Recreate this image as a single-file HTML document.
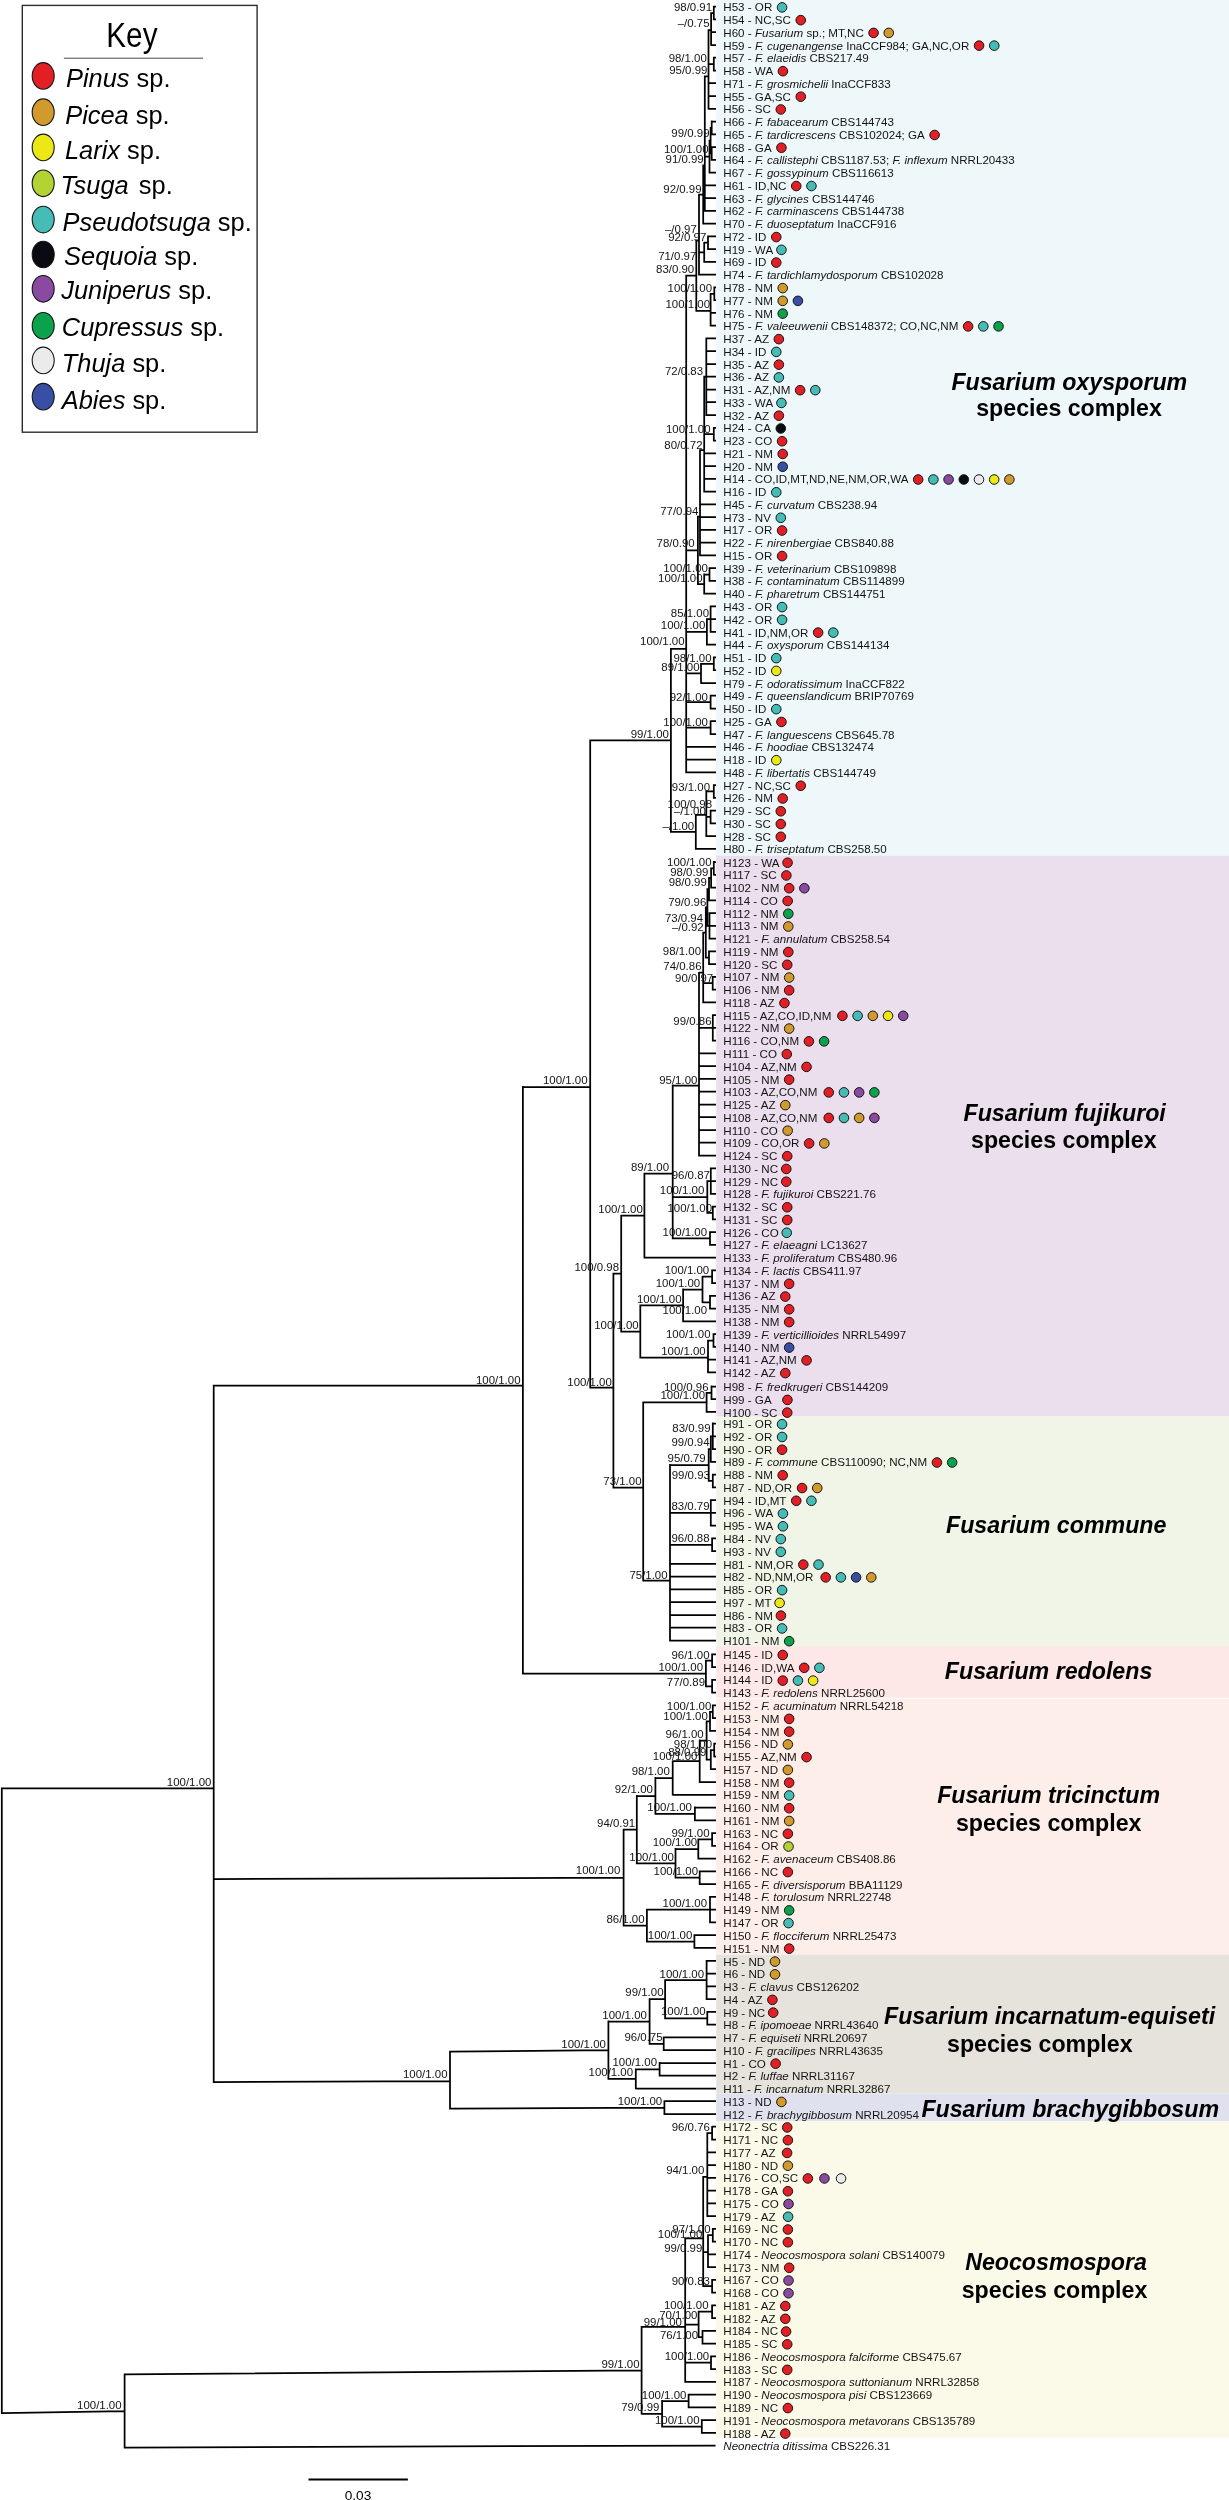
<!DOCTYPE html>
<html lang="en"><head><meta charset="utf-8"><title>Fusarium haplotype phylogeny</title>
<style>
html,body{margin:0;padding:0;background:#fff}
body{width:1229px;height:2500px;position:relative;overflow:hidden;font-family:"Liberation Sans",sans-serif;color:#141414}
svg,#rows{position:absolute;left:0;top:0;width:1229px;height:2500px;will-change:transform}
svg text{font-family:"Liberation Sans",sans-serif;fill:#141414}
.s{font-size:11.45px;text-anchor:end}
.g{font-size:23.2px;font-weight:bold;text-anchor:middle;fill:#000}
.g i,.gi{font-style:italic}
.k{font-size:26.6px;fill:#000}
.r{position:absolute;left:723.3px;height:14px;line-height:14px;font-size:11.6px;white-space:nowrap;letter-spacing:0}
.r i{font-style:italic}
</style></head><body>
<svg width="1229" height="2500" viewBox="0 0 1229 2500">
<rect x="716.2" y="0" width="513" height="855.8" fill="#eef7f9"/>
<rect x="716.2" y="855.8" width="513" height="560.7" fill="#ebdeed"/>
<rect x="716.2" y="1416.5" width="513" height="229.7" fill="#f0f5e8"/>
<rect x="716.2" y="1646.2" width="513" height="51.6" fill="#fde8e7"/>
<rect x="716.2" y="1698.8" width="513" height="255.8" fill="#fdeeea"/>
<rect x="716.2" y="1954.6" width="513" height="139" fill="#e6e3dd"/>
<rect x="716.2" y="2093.6" width="513" height="27.6" fill="#dfe1ee"/>
<rect x="716.2" y="2121.2" width="513" height="316.8" fill="#fbfae8"/>
<path d="M1.8 1787.4L1.8 2413.9M1.8 1788.3L213.7 1788.3M213.7 1384.8L213.7 2082.9M213.7 1385.7L522.9 1385.7M522.9 1086.1L522.9 1674.4M522.9 1087L590.2 1087M590.2 739.5L590.2 1388.6M590.2 740.3L670.9 740.3M670.9 648L670.9 832.7M670.9 648.8L686.2 648.8M686.2 274.8L686.2 773.2M686.2 275.6L696.3 275.6M696.3 239.6L696.3 311.7M696.3 240.5L699 240.5M699 193.7L699 275.5M699 194.5L703.2 194.5M703.2 164.6L703.2 224.5M703.2 165.5L704.8 165.5M704.8 75.6L704.8 211.7M704.8 76.4L708.5 76.4M708.5 29.2L708.5 109.6M708.5 30.1L711.1 30.1M711.1 12.2L711.1 45.8M711.1 13.1L713.8 13.1M713.8 5.8L713.8 20.3M713.8 6.7L716 6.7M713.8 19.4L716 19.4M711.1 32.2L716 32.2M711.1 45L716 45M708.5 64.1L713.8 64.1M713.8 56.8L713.8 71.4M713.8 57.7L716 57.7M713.8 70.5L716 70.5M708.5 83.2L716 83.2M708.5 96L716 96M708.5 108.8L716 108.8M704.8 156.6L709.5 156.6M709.5 139.8L709.5 173.4M709.5 140.7L710.6 140.7M710.6 127L710.6 154.3M710.6 127.9L711.7 127.9M711.7 120.6L711.7 135.2M711.7 121.5L716 121.5M711.7 134.3L716 134.3M710.6 153.4L711.7 153.4M711.7 146.2L711.7 160.7M711.7 147L716 147M711.7 159.8L716 159.8M709.5 172.6L716 172.6M704.8 185.3L716 185.3M704.8 198.1L716 198.1M704.8 210.8L716 210.8M703.2 223.6L716 223.6M699 252.3L704.2 252.3M704.2 241.9L704.2 262.8M704.2 242.7L708 242.7M708 235.5L708 250M708 236.4L716 236.4M708 249.1L716 249.1M704.2 261.9L716 261.9M699 274.6L716 274.6M696.3 310.8L710.6 310.8M710.6 292.9L710.6 326.6M710.6 293.8L714.3 293.8M714.3 286.5L714.3 301M714.3 287.4L716 287.4M714.3 300.2L716 300.2M710.6 312.9L716 312.9M710.6 325.7L716 325.7M686.2 550.3L697.9 550.3M697.9 515.7L697.9 584.9M697.9 516.5L700 516.5M700 449.2L700 556.2M700 450.1L704.2 450.1M704.2 375.8L704.2 492.4M704.2 376.7L706.3 376.7M706.3 337.6L706.3 415.9M706.3 338.4L716 338.4M706.3 351.2L716 351.2M706.3 364L716 364M706.3 376.7L716 376.7M706.3 389.5L716 389.5M706.3 402.2L716 402.2M706.3 415L716 415M704.2 434.1L713.8 434.1M713.8 426.9L713.8 441.4M713.8 427.8L716 427.8M713.8 440.5L716 440.5M704.2 453.3L716 453.3M704.2 466L716 466M704.2 478.8L716 478.8M704.2 491.6L716 491.6M700 504.3L716 504.3M700 517.1L716 517.1M700 529.8L716 529.8M700 542.6L716 542.6M700 555.4L716 555.4M697.9 584.1L704.2 584.1M704.2 573.6L704.2 594.5M704.2 574.5L709.5 574.5M709.5 567.2L709.5 581.8M709.5 568.1L716 568.1M709.5 580.9L716 580.9M704.2 593.6L716 593.6M686.2 631.9L706.9 631.9M706.9 618.3L706.9 645.6M706.9 619.2L710.6 619.2M710.6 605.5L710.6 632.8M710.6 606.4L716 606.4M710.6 619.2L716 619.2M710.6 631.9L716 631.9M706.9 644.7L716 644.7M686.2 673.4L701 673.4M701 662.9L701 683.8M701 663.8L713.8 663.8M713.8 656.6L713.8 671.1M713.8 657.4L716 657.4M713.8 670.2L716 670.2M701 683L716 683M686.2 702.1L710.6 702.1M710.6 694.8L710.6 709.4M710.6 695.7L716 695.7M710.6 708.5L716 708.5M686.2 727.6L710.6 727.6M710.6 720.4L710.6 734.9M710.6 721.2L716 721.2M710.6 734L716 734M686.2 746.8L716 746.8M686.2 759.5L716 759.5M686.2 772.3L716 772.3M670.9 831.8L695.8 831.8M695.8 813.9L695.8 849.7M695.8 814.8L706.3 814.8M706.3 790.5L706.3 837M706.3 791.4L713.8 791.4M713.8 784.2L713.8 798.7M713.8 785L716 785M713.8 797.8L716 797.8M706.3 816.9L710.6 816.9M710.6 809.7L710.6 824.2M710.6 810.6L716 810.6M710.6 823.3L716 823.3M706.3 836.1L716 836.1M695.8 848.8L716 848.8M590.2 1387.7L613.4 1387.7M613.4 1272.7L613.4 1488.5M613.4 1273.6L621.2 1273.6M621.2 1214.7L621.2 1332.4M621.2 1215.6L644.4 1215.6M644.4 1172.8L644.4 1258.5M644.4 1173.6L672.7 1173.6M672.7 1084.6L672.7 1239.3M672.7 1085.5L699 1085.5M699 971.9L699 1156.4M699 972.7L703.2 972.7M703.2 931.7L703.2 1003.2M703.2 932.6L705.8 932.6M705.8 906.6L705.8 958.6M705.8 907.5L707.4 907.5M707.4 888.2L707.4 926.7M707.4 889.1L709 889.1M709 877.1L709 901.2M709 878L711.1 878M711.1 867.5L711.1 888.4M711.1 868.4L713.8 868.4M713.8 861.1L713.8 875.6M713.8 862L716 862M713.8 874.8L716 874.8M711.1 887.5L716 887.5M709 900.3L716 900.3M707.4 925.8L709.5 925.8M709.5 912.2L709.5 939.4M709.5 913L716 913M709.5 925.8L716 925.8M709.5 938.6L716 938.6M705.8 957.7L709 957.7M709 950.5L709 965M709 951.3L716 951.3M709 964.1L716 964.1M703.2 983.2L712.7 983.2M712.7 976L712.7 990.5M712.7 976.8L716 976.8M712.7 989.6L716 989.6M703.2 1002.4L716 1002.4M699 1027.9L712.8 1027.9M712.8 1014.3L712.8 1041.5M712.8 1015.1L716 1015.1M712.8 1027.9L716 1027.9M712.8 1040.7L716 1040.7M699 1053.4L716 1053.4M699 1066.2L716 1066.2M699 1078.9L716 1078.9M699 1091.7L716 1091.7M699 1104.5L716 1104.5M699 1117.2L716 1117.2M699 1130L716 1130M699 1142.7L716 1142.7M699 1155.5L716 1155.5M672.7 1197L707.3 1197M707.3 1180.2L707.3 1213.8M707.3 1181L710.8 1181M710.8 1167.4L710.8 1194.7M710.8 1168.3L716 1168.3M710.8 1181L716 1181M710.8 1193.8L716 1193.8M707.3 1212.9L712.8 1212.9M712.8 1205.7L712.8 1220.2M712.8 1206.5L716 1206.5M712.8 1219.3L716 1219.3M672.7 1238.4L710 1238.4M710 1231.2L710 1245.7M710 1232.1L716 1232.1M710 1244.8L716 1244.8M644.4 1257.6L716 1257.6M621.2 1331.5L640.3 1331.5M640.3 1304.6L640.3 1358.4M640.3 1305.4L683.1 1305.4M683.1 1288.6L683.1 1322.3M683.1 1289.5L702.5 1289.5M702.5 1275.9L702.5 1303.1M702.5 1276.7L712.1 1276.7M712.1 1269.5L712.1 1284M712.1 1270.4L716 1270.4M712.1 1283.1L716 1283.1M702.5 1302.3L710 1302.3M710 1295L710 1309.5M710 1295.9L716 1295.9M710 1308.6L716 1308.6M683.1 1321.4L716 1321.4M640.3 1357.6L708 1357.6M708 1339.7L708 1373.3M708 1340.5L713.5 1340.5M713.5 1333.3L713.5 1347.8M713.5 1334.2L716 1334.2M713.5 1346.9L716 1346.9M708 1359.7L716 1359.7M708 1372.4L716 1372.4M613.4 1487.6L643.2 1487.6M643.2 1401.5L643.2 1581.4M643.2 1402.4L706.6 1402.4M706.6 1392L706.6 1412.8M706.6 1392.8L711.5 1392.8M711.5 1385.6L711.5 1400.1M711.5 1386.5L716 1386.5M711.5 1399.2L716 1399.2M706.6 1411.9L716 1411.9M643.2 1580.5L670 1580.5M670 1464.1L670 1641.4M670 1465L708.7 1465M708.7 1448.2L708.7 1481.8M708.7 1449L710.8 1449M710.8 1435.4L710.8 1462.7M710.8 1436.3L712.8 1436.3M712.8 1422.6L712.8 1449.9M712.8 1423.5L716 1423.5M712.8 1436.3L716 1436.3M712.8 1449L716 1449M710.8 1461.8L716 1461.8M708.7 1480.9L712.8 1480.9M712.8 1473.7L712.8 1488.2M712.8 1474.6L716 1474.6M712.8 1487.3L716 1487.3M670 1512.9L710.8 1512.9M710.8 1499.2L710.8 1526.5M710.8 1500.1L716 1500.1M710.8 1512.9L716 1512.9M710.8 1525.6L716 1525.6M670 1544.8L712.1 1544.8M712.1 1537.5L712.1 1552M712.1 1538.4L716 1538.4M712.1 1551.2L716 1551.2M670 1563.9L716 1563.9M670 1576.7L716 1576.7M670 1589.4L716 1589.4M670 1602.2L716 1602.2M670 1615L716 1615M670 1627.7L716 1627.7M670 1640.5L716 1640.5M522.9 1673.5L705.9 1673.5M705.9 1659.8L705.9 1687.2M705.9 1660.7L712.1 1660.7M712.1 1653.4L712.1 1668M712.1 1654.3L716 1654.3M712.1 1667.1L716 1667.1M705.9 1686.3L712.1 1686.3M712.1 1679L712.1 1693.6M712.1 1679.9L716 1679.9M712.1 1692.7L716 1692.7M213.7 1879.1L623.6 1877.6M623.6 1828.8L623.6 1926.5M623.6 1829.7L636.8 1829.7M636.8 1795.1L636.8 1864.2M636.8 1796L655.4 1796M655.4 1777.1L655.4 1814.8M655.4 1778L672.7 1778M672.7 1760.4L672.7 1795.6M672.7 1761.2L699.7 1761.2M699.7 1739.6L699.7 1782.9M699.7 1740.5L706.6 1740.5M706.6 1720.5L706.6 1760.5M706.6 1721.4L710 1721.4M710 1710.9L710 1731.8M710 1711.8L712.8 1711.8M712.8 1704.5L712.8 1719M712.8 1705.4L716 1705.4M712.8 1718.2L716 1718.2M710 1730.9L716 1730.9M706.6 1759.7L710.8 1759.7M710.8 1749.2L710.8 1770.1M710.8 1750.1L714.2 1750.1M714.2 1742.8L714.2 1757.3M714.2 1743.7L716 1743.7M714.2 1756.5L716 1756.5M710.8 1769.2L716 1769.2M699.7 1782L716 1782M672.7 1794.8L716 1794.8M655.4 1813.9L694.9 1813.9M694.9 1806.6L694.9 1821.2M694.9 1807.5L716 1807.5M694.9 1820.3L716 1820.3M636.8 1863.4L675.5 1863.4M675.5 1848.1L675.5 1878.6M675.5 1849L698.3 1849M698.3 1838.6L698.3 1859.5M698.3 1839.4L712.1 1839.4M712.1 1832.2L712.1 1846.7M712.1 1833.1L716 1833.1M712.1 1845.8L716 1845.8M698.3 1858.6L716 1858.6M675.5 1877.7L699.7 1877.7M699.7 1870.5L699.7 1885M699.7 1871.3L716 1871.3M699.7 1884.1L716 1884.1M623.6 1925.6L646.9 1925.6M646.9 1908.8L646.9 1942.4M646.9 1909.6L710 1909.6M710 1896L710 1923.3M710 1896.9L716 1896.9M710 1909.6L716 1909.6M710 1922.4L716 1922.4M646.9 1941.6L694.4 1941.6M694.4 1934.3L694.4 1948.8M694.4 1935.2L716 1935.2M694.4 1947.9L716 1947.9M213.7 2082L450 2081M450 2050.8L450 2109.6M450 2051.7L608.4 2050.2M608.4 2020.6L608.4 2079.8M608.4 2021.5L649.6 2021.5M649.6 1998.3L649.6 2044.7M649.6 1999.2L665.1 1999.2M665.1 1979.2L665.1 2019.2M665.1 1980L706.6 1980M706.6 1960L706.6 2000M706.6 1960.9L716 1960.9M706.6 1973.7L716 1973.7M706.6 1986.4L716 1986.4M706.6 1999.2L716 1999.2M665.1 2018.3L707.3 2018.3M707.3 2011.1L707.3 2025.6M707.3 2011.9L716 2011.9M707.3 2024.7L716 2024.7M649.6 2043.8L663.7 2043.8M663.7 2036.6L663.7 2051.1M663.7 2037.4L716 2037.4M663.7 2050.2L716 2050.2M608.4 2078.9L635.8 2078.9M635.8 2068.5L635.8 2089.3M635.8 2069.3L659.6 2069.3M659.6 2062.1L659.6 2076.6M659.6 2063L716 2063M659.6 2075.7L716 2075.7M635.8 2088.5L716 2088.5M450 2108.7L664.4 2107.6M664.4 2100.4L664.4 2114.9M664.4 2101.2L716 2101.2M664.4 2114L716 2114M1.8 2413L124.6 2411M124.6 2373.5L124.6 2448.5M124.6 2374.4L641.6 2370.3M641.6 2326L641.6 2414.6M641.6 2326.9L685.2 2326.9M685.2 2237.5L685.2 2382.8M685.2 2238.4L703.2 2238.4M703.2 2176L703.2 2287.1M703.2 2176.9L707.3 2176.9M707.3 2132.2L707.3 2216.9M707.3 2133.1L712.1 2133.1M712.1 2125.9L712.1 2140.4M712.1 2126.7L716 2126.7M712.1 2139.5L716 2139.5M707.3 2152.3L716 2152.3M707.3 2165L716 2165M707.3 2177.8L716 2177.8M707.3 2190.5L716 2190.5M707.3 2203.3L716 2203.3M707.3 2216L716 2216M703.2 2252.2L708 2252.2M708 2234.3L708 2267.9M708 2235.2L712.8 2235.2M712.8 2227.9L712.8 2242.4M712.8 2228.8L716 2228.8M712.8 2241.6L716 2241.6M708 2254.3L716 2254.3M708 2267.1L716 2267.1M703.2 2286.2L712.1 2286.2M712.1 2279L712.1 2293.5M712.1 2279.8L716 2279.8M712.1 2292.6L716 2292.6M685.2 2324.5L698.6 2324.5M698.6 2310.8L698.6 2338.1M698.6 2311.7L712.1 2311.7M712.1 2304.5L712.1 2319M712.1 2305.3L716 2305.3M712.1 2318.1L716 2318.1M698.6 2337.2L702.5 2337.2M702.5 2330L702.5 2344.5M702.5 2330.9L716 2330.9M702.5 2343.6L716 2343.6M685.2 2362.7L711 2362.7M711 2355.5L711 2370M711 2356.4L716 2356.4M711 2369.1L716 2369.1M685.2 2381.9L716 2381.9M641.6 2413.8L662.1 2413.8M662.1 2400.1L662.1 2427.4M662.1 2401L688.6 2401M688.6 2393.8L688.6 2408.3M688.6 2394.6L716 2394.6M688.6 2407.4L716 2407.4M662.1 2426.5L701.8 2426.5M701.8 2419.3L701.8 2433.8M701.8 2420.2L716 2420.2M701.8 2432.9L716 2432.9M124.6 2447.6L715.6 2445.5" fill="none" stroke="#000" stroke-width="1.75"/>
<path d="M308.5 2479.4H407.9" stroke="#000" stroke-width="2" fill="none"/>
<text x="358" y="2500" style="font-size:13.7px;text-anchor:middle;fill:#000">0.03</text>
<text class="s" x="712.1" y="11.4">98/0.91</text>
<text class="s" x="709.5" y="26.8">–/0.75</text>
<text class="s" x="706.8" y="61.7">98/1.00</text>
<text class="s" x="707.4" y="74.4">95/0.99</text>
<text class="s" x="709.5" y="136.8">99/0.99</text>
<text class="s" x="708.5" y="152.6">100/1.00</text>
<text class="s" x="703.7" y="163.2">91/0.99</text>
<text class="s" x="701.5" y="192.9">92/0.99</text>
<text class="s" x="696.8" y="232.6">–/0.97</text>
<text class="s" x="706.3" y="241.1">92/0.97</text>
<text class="s" x="696.3" y="260.1">71/0.97</text>
<text class="s" x="694.2" y="272.9">83/0.90</text>
<text class="s" x="712.1" y="291.9">100/1.00</text>
<text class="s" x="710" y="307.8">100/1.00</text>
<text class="s" x="703.1" y="374.6">72/0.83</text>
<text class="s" x="710.5" y="432.9">100/1.00</text>
<text class="s" x="702.5" y="448.8">80/0.72</text>
<text class="s" x="698.4" y="514.8">77/0.94</text>
<text class="s" x="694.7" y="547.4">78/0.90</text>
<text class="s" x="707.9" y="572.2">100/1.00</text>
<text class="s" x="702.6" y="581.8">100/1.00</text>
<text class="s" x="709" y="617.2">85/1.00</text>
<text class="s" x="705.3" y="629.4">100/1.00</text>
<text class="s" x="684.6" y="645.2">100/1.00</text>
<text class="s" x="711.6" y="661.7">98/1.00</text>
<text class="s" x="699.5" y="670.7">89/1.00</text>
<text class="s" x="707.9" y="700.6">92/1.00</text>
<text class="s" x="707.9" y="726">100/1.00</text>
<text class="s" x="668.9" y="737.6">99/1.00</text>
<text class="s" x="710" y="790.6">93/1.00</text>
<text class="s" x="712.1" y="808">100/0.98</text>
<text class="s" x="705.8" y="814.9">–/1.00</text>
<text class="s" x="694.2" y="829.7">–/1.00</text>
<text class="s" x="711.6" y="866.2">100/1.00</text>
<text class="s" x="708.4" y="876.2">98/0.99</text>
<text class="s" x="706.8" y="886.2">98/0.99</text>
<text class="s" x="706.3" y="905.9">79/0.96</text>
<text class="s" x="703.1" y="921.7">73/0.94</text>
<text class="s" x="703.7" y="931.2">–/0.92</text>
<text class="s" x="701" y="955">98/1.00</text>
<text class="s" x="701.5" y="969.9">74/0.86</text>
<text class="s" x="713.2" y="981.5">90/0.97</text>
<text class="s" x="711.5" y="1025.2">99/0.86</text>
<text class="s" x="697.4" y="1083.5">95/1.00</text>
<text class="s" x="587.5" y="1084.2">100/1.00</text>
<text class="s" x="669.1" y="1170.5">89/1.00</text>
<text class="s" x="709.9" y="1179">96/0.87</text>
<text class="s" x="704.3" y="1194.2">100/1.00</text>
<text class="s" x="712" y="1212.2">100/1.00</text>
<text class="s" x="707.1" y="1235.7">100/1.00</text>
<text class="s" x="642.8" y="1213">100/1.00</text>
<text class="s" x="619" y="1271.2">100/0.98</text>
<text class="s" x="709.2" y="1274">100/1.00</text>
<text class="s" x="700.2" y="1286.5">100/1.00</text>
<text class="s" x="681.5" y="1302.5">100/1.00</text>
<text class="s" x="707.1" y="1314.2">100/1.00</text>
<text class="s" x="638.7" y="1328.5">100/1.00</text>
<text class="s" x="710.5" y="1337.7">100/1.00</text>
<text class="s" x="705.7" y="1354.5">100/1.00</text>
<text class="s" x="611.8" y="1385.5">100/1.00</text>
<text class="s" x="520.5" y="1383.5">100/1.00</text>
<text class="s" x="708.5" y="1391">100/0.96</text>
<text class="s" x="705" y="1399.2">100/1.00</text>
<text class="s" x="710.5" y="1432.4">83/0.99</text>
<text class="s" x="709.6" y="1446.2">99/0.94</text>
<text class="s" x="705.7" y="1462">95/0.79</text>
<text class="s" x="709.9" y="1479.4">99/0.93</text>
<text class="s" x="641.5" y="1485.2">73/1.00</text>
<text class="s" x="709.6" y="1510.2">83/0.79</text>
<text class="s" x="709.6" y="1542">96/0.88</text>
<text class="s" x="667.6" y="1578.5">75/1.00</text>
<text class="s" x="709.6" y="1658.7">96/1.00</text>
<text class="s" x="703" y="1671">100/1.00</text>
<text class="s" x="705" y="1685.9">77/0.89</text>
<text class="s" x="711.3" y="1710">100/1.00</text>
<text class="s" x="707.8" y="1719.8">100/1.00</text>
<text class="s" x="703.7" y="1737.7">96/1.00</text>
<text class="s" x="712" y="1748">98/1.00</text>
<text class="s" x="706.4" y="1755.7">88/0.99</text>
<text class="s" x="697.4" y="1759.5">100/1.00</text>
<text class="s" x="669.8" y="1775.4">98/1.00</text>
<text class="s" x="652.9" y="1793">92/1.00</text>
<text class="s" x="691.9" y="1811">100/1.00</text>
<text class="s" x="635.2" y="1827">94/0.91</text>
<text class="s" x="709.6" y="1837.2">99/1.00</text>
<text class="s" x="697.2" y="1846.2">100/1.00</text>
<text class="s" x="673.9" y="1860.8">100/1.00</text>
<text class="s" x="698.1" y="1875.4">100/1.00</text>
<text class="s" x="620.3" y="1874">100/1.00</text>
<text class="s" x="211.4" y="1785.7">100/1.00</text>
<text class="s" x="707.1" y="1907.2">100/1.00</text>
<text class="s" x="644.6" y="1923">86/1.00</text>
<text class="s" x="692.3" y="1939">100/1.00</text>
<text class="s" x="704.1" y="1977.5">100/1.00</text>
<text class="s" x="663.5" y="1996.4">99/1.00</text>
<text class="s" x="705.5" y="2015.4">100/1.00</text>
<text class="s" x="646.9" y="2019">100/1.00</text>
<text class="s" x="662.6" y="2040.7">96/0.75</text>
<text class="s" x="605.9" y="2047.5">100/1.00</text>
<text class="s" x="657" y="2066.4">100/1.00</text>
<text class="s" x="633.1" y="2076.1">100/1.00</text>
<text class="s" x="447.5" y="2078.3">100/1.00</text>
<text class="s" x="662.2" y="2104.9">100/1.00</text>
<text class="s" x="709.9" y="2130.9">96/0.76</text>
<text class="s" x="704.3" y="2174.1">94/1.00</text>
<text class="s" x="710.5" y="2232.6">97/1.00</text>
<text class="s" x="702.3" y="2237.8">100/1.00</text>
<text class="s" x="702.3" y="2251.5">99/0.99</text>
<text class="s" x="709.9" y="2284.8">90/0.83</text>
<text class="s" x="708.5" y="2308.9">100/1.00</text>
<text class="s" x="697.4" y="2318.9">70/1.00</text>
<text class="s" x="681.9" y="2326.2">99/1.00</text>
<text class="s" x="698.1" y="2339.4">76/1.00</text>
<text class="s" x="709.2" y="2360.3">100/1.00</text>
<text class="s" x="639.6" y="2367.8">99/1.00</text>
<text class="s" x="686.4" y="2398.6">100/1.00</text>
<text class="s" x="659.4" y="2411.1">79/0.99</text>
<text class="s" x="699.5" y="2423.5">100/1.00</text>
<text class="s" x="121.6" y="2408.8">100/1.00</text>
<text class="g gi" x="1069.3" y="389.5">Fusarium oxysporum</text>
<text class="g" x="1069" y="416.3">species complex</text>
<text class="g gi" x="1064.7" y="1120.7">Fusarium fujikuroi</text>
<text class="g" x="1063.8" y="1148.3">species complex</text>
<text class="g gi" x="1056.2" y="1533">Fusarium commune</text>
<text class="g gi" x="1048.6" y="1679">Fusarium redolens</text>
<text class="g gi" x="1048.6" y="1803">Fusarium tricinctum</text>
<text class="g" x="1048.7" y="1830.6">species complex</text>
<text class="g gi" x="1049.6" y="2024.3">Fusarium incarnatum-equiseti</text>
<text class="g" x="1039.8" y="2051.9">species complex</text>
<text class="g gi" x="1070.2" y="2117.4">Fusarium brachygibbosum</text>
<text class="g gi" x="1056" y="2270.3">Neocosmospora</text>
<text class="g" x="1054.5" y="2298.2">species complex</text>
<rect x="22.3" y="5.4" width="234.8" height="426.8" fill="#fff" stroke="#2e2e2e" stroke-width="1.4"/>
<text transform="translate(131.9 47) scale(0.825 1)" style="font-size:36px;text-anchor:middle;fill:#000">Key</text>
<path d="M63.9 58.2H203.1" stroke="#333" stroke-width="0.9" fill="none"/>
<ellipse cx="43.2" cy="75.9" rx="11" ry="13.3" fill="#e31f26" stroke="#151515" stroke-width="1.1"/>
<text class="k" transform="translate(66 87.2) scale(0.955 1)"><tspan style="font-style:italic">Pinus</tspan> sp.</text>
<ellipse cx="43.2" cy="112.2" rx="11" ry="13.3" fill="#d29a2c" stroke="#151515" stroke-width="1.1"/>
<text class="k" transform="translate(65.2 123.7) scale(0.955 1)"><tspan style="font-style:italic">Picea</tspan> sp.</text>
<ellipse cx="43.2" cy="147.4" rx="11" ry="13.3" fill="#ece815" stroke="#151515" stroke-width="1.1"/>
<text class="k" transform="translate(65 158.5) scale(0.955 1)"><tspan style="font-style:italic">Larix</tspan> sp.</text>
<ellipse cx="43.2" cy="183.3" rx="11" ry="13.3" fill="#b3d234" stroke="#151515" stroke-width="1.1"/>
<text class="k" transform="translate(60.4 194.3) scale(0.955 1)"><tspan style="font-style:italic">Tsuga</tspan><tspan dx="3.3"> </tspan> sp.</text>
<ellipse cx="43.2" cy="219.6" rx="11" ry="13.3" fill="#45bcb6" stroke="#151515" stroke-width="1.1"/>
<text class="k" transform="translate(62.5 231) scale(0.955 1)"><tspan style="font-style:italic">Pseudotsuga</tspan> sp.</text>
<ellipse cx="43.2" cy="254.5" rx="11" ry="13.3" fill="#0a0a12" stroke="#151515" stroke-width="1.1"/>
<text class="k" transform="translate(64.1 264.6) scale(0.955 1)"><tspan style="font-style:italic">Sequoia</tspan> sp.</text>
<ellipse cx="43.2" cy="288.8" rx="11" ry="13.3" fill="#8b4aa2" stroke="#151515" stroke-width="1.1"/>
<text class="k" transform="translate(61.2 299.4) scale(0.955 1)"><tspan style="font-style:italic">Juniperus</tspan> sp.</text>
<ellipse cx="43.2" cy="325.8" rx="11" ry="13.3" fill="#0ca24b" stroke="#151515" stroke-width="1.1"/>
<text class="k" transform="translate(61.8 336.2) scale(0.955 1)"><tspan style="font-style:italic">Cupressus</tspan> sp.</text>
<ellipse cx="43.2" cy="360.4" rx="11" ry="13.3" fill="#ebebeb" stroke="#151515" stroke-width="1.1"/>
<text class="k" transform="translate(61.8 372) scale(0.955 1)"><tspan style="font-style:italic">Thuja</tspan> sp.</text>
<ellipse cx="43.2" cy="396.7" rx="11" ry="13.3" fill="#394fa3" stroke="#151515" stroke-width="1.1"/>
<text class="k" transform="translate(61.8 409.1) scale(0.955 1)"><tspan style="font-style:italic">Abies</tspan> sp.</text>
<g stroke="#151515" stroke-width="1">
<circle cx="782.07" cy="7.38" r="4.8" fill="#45bcb6"/>
<circle cx="800.76" cy="20.14" r="4.8" fill="#e31f26"/>
<circle cx="873.57" cy="32.90" r="4.8" fill="#e31f26"/>
<circle cx="888.77" cy="32.90" r="4.8" fill="#d29a2c"/>
<circle cx="979.07" cy="45.66" r="4.8" fill="#e31f26"/>
<circle cx="994.27" cy="45.66" r="4.8" fill="#45bcb6"/>
<circle cx="782.93" cy="71.18" r="4.8" fill="#e31f26"/>
<circle cx="800.76" cy="96.70" r="4.8" fill="#e31f26"/>
<circle cx="780.79" cy="109.46" r="4.8" fill="#e31f26"/>
<circle cx="934.62" cy="134.98" r="4.8" fill="#e31f26"/>
<circle cx="781.43" cy="147.74" r="4.8" fill="#e31f26"/>
<circle cx="796.24" cy="186.02" r="4.8" fill="#e31f26"/>
<circle cx="811.44" cy="186.02" r="4.8" fill="#45bcb6"/>
<circle cx="776.27" cy="237.06" r="4.8" fill="#e31f26"/>
<circle cx="781.43" cy="249.82" r="4.8" fill="#45bcb6"/>
<circle cx="776.27" cy="262.58" r="4.8" fill="#e31f26"/>
<circle cx="782.71" cy="288.10" r="4.8" fill="#d29a2c"/>
<circle cx="782.71" cy="300.86" r="4.8" fill="#d29a2c"/>
<circle cx="797.91" cy="300.86" r="4.8" fill="#394fa3"/>
<circle cx="782.71" cy="313.62" r="4.8" fill="#0ca24b"/>
<circle cx="968.12" cy="326.38" r="4.8" fill="#e31f26"/>
<circle cx="983.32" cy="326.38" r="4.8" fill="#45bcb6"/>
<circle cx="998.52" cy="326.38" r="4.8" fill="#0ca24b"/>
<circle cx="778.85" cy="339.14" r="4.8" fill="#e31f26"/>
<circle cx="776.27" cy="351.90" r="4.8" fill="#45bcb6"/>
<circle cx="778.85" cy="364.66" r="4.8" fill="#e31f26"/>
<circle cx="778.85" cy="377.42" r="4.8" fill="#45bcb6"/>
<circle cx="800.10" cy="390.18" r="4.8" fill="#e31f26"/>
<circle cx="815.30" cy="390.18" r="4.8" fill="#45bcb6"/>
<circle cx="781.43" cy="402.94" r="4.8" fill="#45bcb6"/>
<circle cx="778.85" cy="415.70" r="4.8" fill="#e31f26"/>
<circle cx="780.79" cy="428.46" r="4.8" fill="#0a0a12"/>
<circle cx="782.07" cy="441.22" r="4.8" fill="#e31f26"/>
<circle cx="782.71" cy="453.98" r="4.8" fill="#e31f26"/>
<circle cx="782.71" cy="466.74" r="4.8" fill="#394fa3"/>
<circle cx="918.18" cy="479.50" r="4.8" fill="#e31f26"/>
<circle cx="933.38" cy="479.50" r="4.8" fill="#45bcb6"/>
<circle cx="948.58" cy="479.50" r="4.8" fill="#8b4aa2"/>
<circle cx="963.78" cy="479.50" r="4.8" fill="#0a0a12"/>
<circle cx="978.98" cy="479.50" r="4.8" fill="#ebebeb"/>
<circle cx="994.18" cy="479.50" r="4.8" fill="#ece815"/>
<circle cx="1009.38" cy="479.50" r="4.8" fill="#d29a2c"/>
<circle cx="776.27" cy="492.26" r="4.8" fill="#45bcb6"/>
<circle cx="780.79" cy="517.78" r="4.8" fill="#45bcb6"/>
<circle cx="782.07" cy="530.54" r="4.8" fill="#e31f26"/>
<circle cx="782.07" cy="556.06" r="4.8" fill="#e31f26"/>
<circle cx="782.07" cy="607.10" r="4.8" fill="#45bcb6"/>
<circle cx="782.07" cy="619.86" r="4.8" fill="#45bcb6"/>
<circle cx="818.13" cy="632.62" r="4.8" fill="#e31f26"/>
<circle cx="833.33" cy="632.62" r="4.8" fill="#45bcb6"/>
<circle cx="776.27" cy="658.14" r="4.8" fill="#45bcb6"/>
<circle cx="776.27" cy="670.90" r="4.8" fill="#ece815"/>
<circle cx="776.27" cy="709.18" r="4.8" fill="#45bcb6"/>
<circle cx="781.43" cy="721.94" r="4.8" fill="#e31f26"/>
<circle cx="776.27" cy="760.22" r="4.8" fill="#ece815"/>
<circle cx="800.76" cy="785.74" r="4.8" fill="#e31f26"/>
<circle cx="782.71" cy="798.50" r="4.8" fill="#e31f26"/>
<circle cx="780.79" cy="811.26" r="4.8" fill="#e31f26"/>
<circle cx="780.79" cy="824.02" r="4.8" fill="#e31f26"/>
<circle cx="780.79" cy="836.78" r="4.8" fill="#e31f26"/>
<circle cx="787.57" cy="862.70" r="4.8" fill="#e31f26"/>
<circle cx="786.37" cy="875.46" r="4.8" fill="#e31f26"/>
<circle cx="789.16" cy="888.22" r="4.8" fill="#e31f26"/>
<circle cx="804.36" cy="888.22" r="4.8" fill="#8b4aa2"/>
<circle cx="787.66" cy="900.98" r="4.8" fill="#e31f26"/>
<circle cx="788.30" cy="913.74" r="4.8" fill="#0ca24b"/>
<circle cx="788.30" cy="926.50" r="4.8" fill="#d29a2c"/>
<circle cx="788.30" cy="952.03" r="4.8" fill="#e31f26"/>
<circle cx="787.23" cy="964.79" r="4.8" fill="#e31f26"/>
<circle cx="789.16" cy="977.55" r="4.8" fill="#d29a2c"/>
<circle cx="789.16" cy="990.31" r="4.8" fill="#e31f26"/>
<circle cx="784.44" cy="1003.07" r="4.8" fill="#e31f26"/>
<circle cx="842.42" cy="1015.83" r="4.8" fill="#e31f26"/>
<circle cx="857.62" cy="1015.83" r="4.8" fill="#45bcb6"/>
<circle cx="872.82" cy="1015.83" r="4.8" fill="#d29a2c"/>
<circle cx="888.02" cy="1015.83" r="4.8" fill="#ece815"/>
<circle cx="903.22" cy="1015.83" r="4.8" fill="#8b4aa2"/>
<circle cx="789.16" cy="1028.59" r="4.8" fill="#d29a2c"/>
<circle cx="808.91" cy="1041.35" r="4.8" fill="#e31f26"/>
<circle cx="824.11" cy="1041.35" r="4.8" fill="#0ca24b"/>
<circle cx="786.80" cy="1054.12" r="4.8" fill="#e31f26"/>
<circle cx="806.55" cy="1066.88" r="4.8" fill="#e31f26"/>
<circle cx="789.16" cy="1079.64" r="4.8" fill="#e31f26"/>
<circle cx="828.76" cy="1092.40" r="4.8" fill="#e31f26"/>
<circle cx="843.96" cy="1092.40" r="4.8" fill="#45bcb6"/>
<circle cx="859.16" cy="1092.40" r="4.8" fill="#8b4aa2"/>
<circle cx="874.36" cy="1092.40" r="4.8" fill="#0ca24b"/>
<circle cx="785.30" cy="1105.16" r="4.8" fill="#d29a2c"/>
<circle cx="828.76" cy="1117.92" r="4.8" fill="#e31f26"/>
<circle cx="843.96" cy="1117.92" r="4.8" fill="#45bcb6"/>
<circle cx="859.16" cy="1117.92" r="4.8" fill="#d29a2c"/>
<circle cx="874.36" cy="1117.92" r="4.8" fill="#8b4aa2"/>
<circle cx="787.66" cy="1130.68" r="4.8" fill="#d29a2c"/>
<circle cx="809.13" cy="1143.44" r="4.8" fill="#e31f26"/>
<circle cx="824.33" cy="1143.44" r="4.8" fill="#d29a2c"/>
<circle cx="787.23" cy="1156.20" r="4.8" fill="#e31f26"/>
<circle cx="786.27" cy="1168.96" r="4.8" fill="#e31f26"/>
<circle cx="786.27" cy="1181.73" r="4.8" fill="#e31f26"/>
<circle cx="787.23" cy="1207.25" r="4.8" fill="#e31f26"/>
<circle cx="787.23" cy="1220.01" r="4.8" fill="#e31f26"/>
<circle cx="786.72" cy="1232.77" r="4.8" fill="#45bcb6"/>
<circle cx="789.16" cy="1283.81" r="4.8" fill="#e31f26"/>
<circle cx="785.30" cy="1296.57" r="4.8" fill="#e31f26"/>
<circle cx="789.16" cy="1309.34" r="4.8" fill="#e31f26"/>
<circle cx="789.16" cy="1322.10" r="4.8" fill="#e31f26"/>
<circle cx="789.16" cy="1347.62" r="4.8" fill="#394fa3"/>
<circle cx="806.55" cy="1360.38" r="4.8" fill="#e31f26"/>
<circle cx="785.30" cy="1373.14" r="4.8" fill="#e31f26"/>
<circle cx="787.43" cy="1399.90" r="4.8" fill="#e31f26"/>
<circle cx="787.23" cy="1412.60" r="4.8" fill="#e31f26"/>
<circle cx="782.07" cy="1424.20" r="4.8" fill="#45bcb6"/>
<circle cx="782.07" cy="1436.97" r="4.8" fill="#45bcb6"/>
<circle cx="782.07" cy="1449.73" r="4.8" fill="#e31f26"/>
<circle cx="936.94" cy="1462.50" r="4.8" fill="#e31f26"/>
<circle cx="952.14" cy="1462.50" r="4.8" fill="#0ca24b"/>
<circle cx="782.71" cy="1475.26" r="4.8" fill="#e31f26"/>
<circle cx="802.04" cy="1488.03" r="4.8" fill="#e31f26"/>
<circle cx="817.24" cy="1488.03" r="4.8" fill="#d29a2c"/>
<circle cx="796.24" cy="1500.79" r="4.8" fill="#e31f26"/>
<circle cx="811.44" cy="1500.79" r="4.8" fill="#45bcb6"/>
<circle cx="782.93" cy="1513.56" r="4.8" fill="#45bcb6"/>
<circle cx="782.93" cy="1526.32" r="4.8" fill="#45bcb6"/>
<circle cx="780.79" cy="1539.09" r="4.8" fill="#45bcb6"/>
<circle cx="780.79" cy="1551.85" r="4.8" fill="#45bcb6"/>
<circle cx="803.32" cy="1564.62" r="4.8" fill="#e31f26"/>
<circle cx="818.52" cy="1564.62" r="4.8" fill="#45bcb6"/>
<circle cx="825.69" cy="1577.38" r="4.8" fill="#e31f26"/>
<circle cx="840.89" cy="1577.38" r="4.8" fill="#45bcb6"/>
<circle cx="856.09" cy="1577.38" r="4.8" fill="#394fa3"/>
<circle cx="871.29" cy="1577.38" r="4.8" fill="#d29a2c"/>
<circle cx="782.07" cy="1590.14" r="4.8" fill="#45bcb6"/>
<circle cx="779.61" cy="1602.91" r="4.8" fill="#ece815"/>
<circle cx="780.91" cy="1615.67" r="4.8" fill="#e31f26"/>
<circle cx="782.07" cy="1628.44" r="4.8" fill="#45bcb6"/>
<circle cx="789.16" cy="1641.21" r="4.8" fill="#0ca24b"/>
<circle cx="782.73" cy="1655.00" r="4.8" fill="#e31f26"/>
<circle cx="804.19" cy="1667.80" r="4.8" fill="#e31f26"/>
<circle cx="819.39" cy="1667.80" r="4.8" fill="#45bcb6"/>
<circle cx="782.73" cy="1680.60" r="4.8" fill="#e31f26"/>
<circle cx="797.93" cy="1680.60" r="4.8" fill="#45bcb6"/>
<circle cx="813.13" cy="1680.60" r="4.8" fill="#ece815"/>
<circle cx="789.16" cy="1718.87" r="4.8" fill="#e31f26"/>
<circle cx="789.16" cy="1731.63" r="4.8" fill="#e31f26"/>
<circle cx="787.87" cy="1744.40" r="4.8" fill="#d29a2c"/>
<circle cx="806.55" cy="1757.16" r="4.8" fill="#e31f26"/>
<circle cx="787.87" cy="1769.93" r="4.8" fill="#d29a2c"/>
<circle cx="789.16" cy="1782.69" r="4.8" fill="#e31f26"/>
<circle cx="789.16" cy="1795.46" r="4.8" fill="#45bcb6"/>
<circle cx="789.16" cy="1808.22" r="4.8" fill="#e31f26"/>
<circle cx="789.16" cy="1820.99" r="4.8" fill="#d29a2c"/>
<circle cx="787.87" cy="1833.75" r="4.8" fill="#e31f26"/>
<circle cx="788.52" cy="1846.52" r="4.8" fill="#b3d234"/>
<circle cx="787.87" cy="1872.05" r="4.8" fill="#e31f26"/>
<circle cx="789.16" cy="1910.34" r="4.8" fill="#0ca24b"/>
<circle cx="788.52" cy="1923.11" r="4.8" fill="#45bcb6"/>
<circle cx="789.16" cy="1948.64" r="4.8" fill="#e31f26"/>
<circle cx="774.98" cy="1961.60" r="4.8" fill="#d29a2c"/>
<circle cx="774.98" cy="1974.36" r="4.8" fill="#d29a2c"/>
<circle cx="772.41" cy="1999.87" r="4.8" fill="#e31f26"/>
<circle cx="773.18" cy="2012.63" r="4.8" fill="#e31f26"/>
<circle cx="775.62" cy="2063.66" r="4.8" fill="#e31f26"/>
<circle cx="781.43" cy="2101.93" r="4.8" fill="#d29a2c"/>
<circle cx="787.23" cy="2127.44" r="4.8" fill="#e31f26"/>
<circle cx="787.87" cy="2140.20" r="4.8" fill="#e31f26"/>
<circle cx="787.10" cy="2152.95" r="4.8" fill="#e31f26"/>
<circle cx="787.87" cy="2165.71" r="4.8" fill="#d29a2c"/>
<circle cx="807.85" cy="2178.47" r="4.8" fill="#e31f26"/>
<circle cx="824.45" cy="2178.47" r="4.8" fill="#8b4aa2"/>
<circle cx="841.05" cy="2178.47" r="4.8" fill="#ebebeb"/>
<circle cx="787.88" cy="2191.23" r="4.8" fill="#e31f26"/>
<circle cx="788.52" cy="2203.98" r="4.8" fill="#8b4aa2"/>
<circle cx="788.10" cy="2216.74" r="4.8" fill="#45bcb6"/>
<circle cx="787.87" cy="2229.50" r="4.8" fill="#e31f26"/>
<circle cx="787.87" cy="2242.25" r="4.8" fill="#e31f26"/>
<circle cx="789.16" cy="2267.77" r="4.8" fill="#e31f26"/>
<circle cx="788.52" cy="2280.53" r="4.8" fill="#8b4aa2"/>
<circle cx="788.52" cy="2293.28" r="4.8" fill="#8b4aa2"/>
<circle cx="785.30" cy="2306.04" r="4.8" fill="#e31f26"/>
<circle cx="785.30" cy="2318.80" r="4.8" fill="#e31f26"/>
<circle cx="786.07" cy="2331.55" r="4.8" fill="#e31f26"/>
<circle cx="787.23" cy="2344.31" r="4.8" fill="#e31f26"/>
<circle cx="787.23" cy="2369.82" r="4.8" fill="#e31f26"/>
<circle cx="787.87" cy="2408.09" r="4.8" fill="#e31f26"/>
<circle cx="785.30" cy="2433.61" r="4.8" fill="#e31f26"/>
</g>
</svg>
<div id="rows">
<div class="r" style="top:0.2px"><span>H53 - OR</span></div>
<div class="r" style="top:13px"><span>H54 - NC,SC</span></div>
<div class="r" style="top:25.8px"><span>H60 - <i>Fusarium</i> sp.; MT,NC</span></div>
<div class="r" style="top:38.5px"><span>H59 - <i>F. cugenangense</i> InaCCF984; GA,NC,OR</span></div>
<div class="r" style="top:51.3px"><span>H57 - <i>F. elaeidis</i> CBS217.49</span></div>
<div class="r" style="top:64px"><span>H58 - WA</span></div>
<div class="r" style="top:76.8px"><span>H71 - <i>F. grosmichelii</i> InaCCF833</span></div>
<div class="r" style="top:89.5px"><span>H55 - GA,SC</span></div>
<div class="r" style="top:102.3px"><span>H56 - SC</span></div>
<div class="r" style="top:115.1px"><span>H66 - <i>F. fabacearum</i> CBS144743</span></div>
<div class="r" style="top:127.8px"><span>H65 - <i>F. tardicrescens</i> CBS102024; GA</span></div>
<div class="r" style="top:140.6px"><span>H68 - GA</span></div>
<div class="r" style="top:153.4px"><span>H64 - <i>F. callistephi</i> CBS1187.53; <i>F. inflexum</i> NRRL20433</span></div>
<div class="r" style="top:166.1px"><span>H67 - <i>F. gossypinum</i> CBS116613</span></div>
<div class="r" style="top:178.9px"><span>H61 - ID,NC</span></div>
<div class="r" style="top:191.6px"><span>H63 - <i>F. glycines</i> CBS144746</span></div>
<div class="r" style="top:204.4px"><span>H62 - <i>F. carminascens</i> CBS144738</span></div>
<div class="r" style="top:217.2px"><span>H70 - <i>F. duoseptatum</i> InaCCF916</span></div>
<div class="r" style="top:229.9px"><span>H72 - ID</span></div>
<div class="r" style="top:242.7px"><span>H19 - WA</span></div>
<div class="r" style="top:255.4px"><span>H69 - ID</span></div>
<div class="r" style="top:268.2px"><span>H74 - <i>F. tardichlamydosporum</i> CBS102028</span></div>
<div class="r" style="top:280.9px"><span>H78 - NM</span></div>
<div class="r" style="top:293.7px"><span>H77 - NM</span></div>
<div class="r" style="top:306.5px"><span>H76 - NM</span></div>
<div class="r" style="top:319.2px"><span>H75 - <i>F. valeeuwenii</i> CBS148372; CO,NC,NM</span></div>
<div class="r" style="top:332px"><span>H37 - AZ</span></div>
<div class="r" style="top:344.8px"><span>H34 - ID</span></div>
<div class="r" style="top:357.5px"><span>H35 - AZ</span></div>
<div class="r" style="top:370.3px"><span>H36 - AZ</span></div>
<div class="r" style="top:383px"><span>H31 - AZ,NM</span></div>
<div class="r" style="top:395.8px"><span>H33 - WA</span></div>
<div class="r" style="top:408.6px"><span>H32 - AZ</span></div>
<div class="r" style="top:421.3px"><span>H24 - CA</span></div>
<div class="r" style="top:434.1px"><span>H23 - CO</span></div>
<div class="r" style="top:446.8px"><span>H21 - NM</span></div>
<div class="r" style="top:459.6px"><span>H20 - NM</span></div>
<div class="r" style="top:472.4px"><span>H14 - CO,ID,MT,ND,NE,NM,OR,WA</span></div>
<div class="r" style="top:485.1px"><span>H16 - ID</span></div>
<div class="r" style="top:497.9px"><span>H45 - <i>F. curvatum</i> CBS238.94</span></div>
<div class="r" style="top:510.6px"><span>H73 - NV</span></div>
<div class="r" style="top:523.4px"><span>H17 - OR</span></div>
<div class="r" style="top:536.1px"><span>H22 - <i>F. nirenbergiae</i> CBS840.88</span></div>
<div class="r" style="top:548.9px"><span>H15 - OR</span></div>
<div class="r" style="top:561.7px"><span>H39 - <i>F. veterinarium</i> CBS109898</span></div>
<div class="r" style="top:574.4px"><span>H38 - <i>F. contaminatum</i> CBS114899</span></div>
<div class="r" style="top:587.2px"><span>H40 - <i>F. pharetrum</i> CBS144751</span></div>
<div class="r" style="top:599.9px"><span>H43 - OR</span></div>
<div class="r" style="top:612.7px"><span>H42 - OR</span></div>
<div class="r" style="top:625.5px"><span>H41 - ID,NM,OR</span></div>
<div class="r" style="top:638.2px"><span>H44 - <i>F. oxysporum</i> CBS144134</span></div>
<div class="r" style="top:651px"><span>H51 - ID</span></div>
<div class="r" style="top:663.7px"><span>H52 - ID</span></div>
<div class="r" style="top:676.5px"><span>H79 - <i>F. odoratissimum</i> InaCCF822</span></div>
<div class="r" style="top:689.3px"><span>H49 - <i>F. queenslandicum</i> BRIP70769</span></div>
<div class="r" style="top:702px"><span>H50 - ID</span></div>
<div class="r" style="top:714.8px"><span>H25 - GA</span></div>
<div class="r" style="top:727.5px"><span>H47 - <i>F. languescens</i> CBS645.78</span></div>
<div class="r" style="top:740.3px"><span>H46 - <i>F. hoodiae</i> CBS132474</span></div>
<div class="r" style="top:753.1px"><span>H18 - ID</span></div>
<div class="r" style="top:765.8px"><span>H48 - <i>F. libertatis</i> CBS144749</span></div>
<div class="r" style="top:778.6px"><span>H27 - NC,SC</span></div>
<div class="r" style="top:791.3px"><span>H26 - NM</span></div>
<div class="r" style="top:804.1px"><span>H29 - SC</span></div>
<div class="r" style="top:816.9px"><span>H30 - SC</span></div>
<div class="r" style="top:829.6px"><span>H28 - SC</span></div>
<div class="r" style="top:842.4px"><span>H80 - <i>F. triseptatum</i> CBS258.50</span></div>
<div class="r" style="top:855.5px"><span>H123 - WA</span></div>
<div class="r" style="top:868.3px"><span>H117 - SC</span></div>
<div class="r" style="top:881.1px"><span>H102 - NM</span></div>
<div class="r" style="top:893.8px"><span>H114 - CO</span></div>
<div class="r" style="top:906.6px"><span>H112 - NM</span></div>
<div class="r" style="top:919.4px"><span>H113 - NM</span></div>
<div class="r" style="top:932.1px"><span>H121 - <i>F. annulatum</i> CBS258.54</span></div>
<div class="r" style="top:944.9px"><span>H119 - NM</span></div>
<div class="r" style="top:957.6px"><span>H120 - SC</span></div>
<div class="r" style="top:970.4px"><span>H107 - NM</span></div>
<div class="r" style="top:983.2px"><span>H106 - NM</span></div>
<div class="r" style="top:995.9px"><span>H118 - AZ</span></div>
<div class="r" style="top:1008.7px"><span>H115 - AZ,CO,ID,NM</span></div>
<div class="r" style="top:1021.4px"><span>H122 - NM</span></div>
<div class="r" style="top:1034.2px"><span>H116 - CO,NM</span></div>
<div class="r" style="top:1047px"><span>H111 - CO</span></div>
<div class="r" style="top:1059.7px"><span>H104 - AZ,NM</span></div>
<div class="r" style="top:1072.5px"><span>H105 - NM</span></div>
<div class="r" style="top:1085.2px"><span>H103 - AZ,CO,NM</span></div>
<div class="r" style="top:1098px"><span>H125 - AZ</span></div>
<div class="r" style="top:1110.8px"><span>H108 - AZ,CO,NM</span></div>
<div class="r" style="top:1123.5px"><span>H110 - CO</span></div>
<div class="r" style="top:1136.3px"><span>H109 - CO,OR</span></div>
<div class="r" style="top:1149.1px"><span>H124 - SC</span></div>
<div class="r" style="top:1161.8px"><span>H130 - NC</span></div>
<div class="r" style="top:1174.6px"><span>H129 - NC</span></div>
<div class="r" style="top:1187.3px"><span>H128 - <i>F. fujikuroi</i> CBS221.76</span></div>
<div class="r" style="top:1200.1px"><span>H132 - SC</span></div>
<div class="r" style="top:1212.9px"><span>H131 - SC</span></div>
<div class="r" style="top:1225.6px"><span>H126 - CO</span></div>
<div class="r" style="top:1238.4px"><span>H127 - <i>F. elaeagni</i> LC13627</span></div>
<div class="r" style="top:1251.1px"><span>H133 - <i>F. proliferatum</i> CBS480.96</span></div>
<div class="r" style="top:1263.9px"><span>H134 - <i>F. lactis</i> CBS411.97</span></div>
<div class="r" style="top:1276.7px"><span>H137 - NM</span></div>
<div class="r" style="top:1289.4px"><span>H136 - AZ</span></div>
<div class="r" style="top:1302.2px"><span>H135 - NM</span></div>
<div class="r" style="top:1314.9px"><span>H138 - NM</span></div>
<div class="r" style="top:1327.7px"><span>H139 - <i>F. verticillioides</i> NRRL54997</span></div>
<div class="r" style="top:1340.5px"><span>H140 - NM</span></div>
<div class="r" style="top:1353.2px"><span>H141 - AZ,NM</span></div>
<div class="r" style="top:1366px"><span>H142 - AZ</span></div>
<div class="r" style="top:1380px"><span>H98 - <i>F. fredkrugeri</i> CBS144209</span></div>
<div class="r" style="top:1392.8px"><span>H99 - GA</span></div>
<div class="r" style="top:1405.5px"><span>H100 - SC</span></div>
<div class="r" style="top:1417px"><span>H91 - OR</span></div>
<div class="r" style="top:1429.8px"><span>H92 - OR</span></div>
<div class="r" style="top:1442.6px"><span>H90 - OR</span></div>
<div class="r" style="top:1455.3px"><span>H89 - <i>F. commune</i> CBS110090; NC,NM</span></div>
<div class="r" style="top:1468.1px"><span>H88 - NM</span></div>
<div class="r" style="top:1480.9px"><span>H87 - ND,OR</span></div>
<div class="r" style="top:1493.6px"><span>H94 - ID,MT</span></div>
<div class="r" style="top:1506.4px"><span>H96 - WA</span></div>
<div class="r" style="top:1519.2px"><span>H95 - WA</span></div>
<div class="r" style="top:1531.9px"><span>H84 - NV</span></div>
<div class="r" style="top:1544.7px"><span>H93 - NV</span></div>
<div class="r" style="top:1557.5px"><span>H81 - NM,OR</span></div>
<div class="r" style="top:1570.2px"><span>H82 - ND,NM,OR</span></div>
<div class="r" style="top:1583px"><span>H85 - OR</span></div>
<div class="r" style="top:1595.8px"><span>H97 - MT</span></div>
<div class="r" style="top:1608.5px"><span>H86 - NM</span></div>
<div class="r" style="top:1621.3px"><span>H83 - OR</span></div>
<div class="r" style="top:1634.1px"><span>H101 - NM</span></div>
<div class="r" style="top:1647.8px"><span>H145 - ID</span></div>
<div class="r" style="top:1660.6px"><span>H146 - ID,WA</span></div>
<div class="r" style="top:1673.4px"><span>H144 - ID</span></div>
<div class="r" style="top:1686.2px"><span>H143 - <i>F. redolens</i> NRRL25600</span></div>
<div class="r" style="top:1699px"><span>H152 - <i>F. acuminatum</i> NRRL54218</span></div>
<div class="r" style="top:1711.7px"><span>H153 - NM</span></div>
<div class="r" style="top:1724.5px"><span>H154 - NM</span></div>
<div class="r" style="top:1737.2px"><span>H156 - ND</span></div>
<div class="r" style="top:1750px"><span>H155 - AZ,NM</span></div>
<div class="r" style="top:1762.8px"><span>H157 - ND</span></div>
<div class="r" style="top:1775.5px"><span>H158 - NM</span></div>
<div class="r" style="top:1788.3px"><span>H159 - NM</span></div>
<div class="r" style="top:1801.1px"><span>H160 - NM</span></div>
<div class="r" style="top:1813.8px"><span>H161 - NM</span></div>
<div class="r" style="top:1826.6px"><span>H163 - NC</span></div>
<div class="r" style="top:1839.4px"><span>H164 - OR</span></div>
<div class="r" style="top:1852.1px"><span>H162 - <i>F. avenaceum</i> CBS408.86</span></div>
<div class="r" style="top:1864.9px"><span>H166 - NC</span></div>
<div class="r" style="top:1877.7px"><span>H165 - <i>F. diversisporum</i> BBA11129</span></div>
<div class="r" style="top:1890.4px"><span>H148 - <i>F. torulosum</i> NRRL22748</span></div>
<div class="r" style="top:1903.2px"><span>H149 - NM</span></div>
<div class="r" style="top:1916px"><span>H147 - OR</span></div>
<div class="r" style="top:1928.7px"><span>H150 - <i>F. flocciferum</i> NRRL25473</span></div>
<div class="r" style="top:1941.5px"><span>H151 - NM</span></div>
<div class="r" style="top:1954.5px"><span>H5 - ND</span></div>
<div class="r" style="top:1967.2px"><span>H6 - ND</span></div>
<div class="r" style="top:1980px"><span>H3 - <i>F. clavus</i> CBS126202</span></div>
<div class="r" style="top:1992.7px"><span>H4 - AZ</span></div>
<div class="r" style="top:2005.5px"><span>H9 - NC</span></div>
<div class="r" style="top:2018.2px"><span>H8 - <i>F. ipomoeae</i> NRRL43640</span></div>
<div class="r" style="top:2031px"><span>H7 - <i>F. equiseti</i> NRRL20697</span></div>
<div class="r" style="top:2043.7px"><span>H10 - <i>F. gracilipes</i> NRRL43635</span></div>
<div class="r" style="top:2056.5px"><span>H1 - CO</span></div>
<div class="r" style="top:2069.3px"><span>H2 - <i>F. luffae</i> NRRL31167</span></div>
<div class="r" style="top:2082px"><span>H11 - <i>F. incarnatum</i> NRRL32867</span></div>
<div class="r" style="top:2094.8px"><span>H13 - ND</span></div>
<div class="r" style="top:2107.5px"><span>H12 - <i>F. brachygibbosum</i> NRRL20954</span></div>
<div class="r" style="top:2120.3px"><span>H172 - SC</span></div>
<div class="r" style="top:2133px"><span>H171 - NC</span></div>
<div class="r" style="top:2145.8px"><span>H177 - AZ</span></div>
<div class="r" style="top:2158.6px"><span>H180 - ND</span></div>
<div class="r" style="top:2171.3px"><span>H176 - CO,SC</span></div>
<div class="r" style="top:2184.1px"><span>H178 - GA</span></div>
<div class="r" style="top:2196.8px"><span>H175 - CO</span></div>
<div class="r" style="top:2209.6px"><span>H179 - AZ</span></div>
<div class="r" style="top:2222.3px"><span>H169 - NC</span></div>
<div class="r" style="top:2235.1px"><span>H170 - NC</span></div>
<div class="r" style="top:2247.9px"><span>H174 - <i>Neocosmospora solani</i> CBS140079</span></div>
<div class="r" style="top:2260.6px"><span>H173 - NM</span></div>
<div class="r" style="top:2273.4px"><span>H167 - CO</span></div>
<div class="r" style="top:2286.1px"><span>H168 - CO</span></div>
<div class="r" style="top:2298.9px"><span>H181 - AZ</span></div>
<div class="r" style="top:2311.6px"><span>H182 - AZ</span></div>
<div class="r" style="top:2324.4px"><span>H184 - NC</span></div>
<div class="r" style="top:2337.2px"><span>H185 - SC</span></div>
<div class="r" style="top:2349.9px"><span>H186 - <i>Neocosmospora falciforme</i> CBS475.67</span></div>
<div class="r" style="top:2362.7px"><span>H183 - SC</span></div>
<div class="r" style="top:2375.4px"><span>H187 - <i>Neocosmospora suttonianum</i> NRRL32858</span></div>
<div class="r" style="top:2388.2px"><span>H190 - <i>Neocosmospora pisi</i> CBS123669</span></div>
<div class="r" style="top:2400.9px"><span>H189 - NC</span></div>
<div class="r" style="top:2413.7px"><span>H191 - <i>Neocosmospora metavorans</i> CBS135789</span></div>
<div class="r" style="top:2426.5px"><span>H188 - AZ</span></div>
<div class="r" style="top:2439.1px"><span><i>Neonectria ditissima</i> CBS226.31</span></div>
</div>
</body></html>
